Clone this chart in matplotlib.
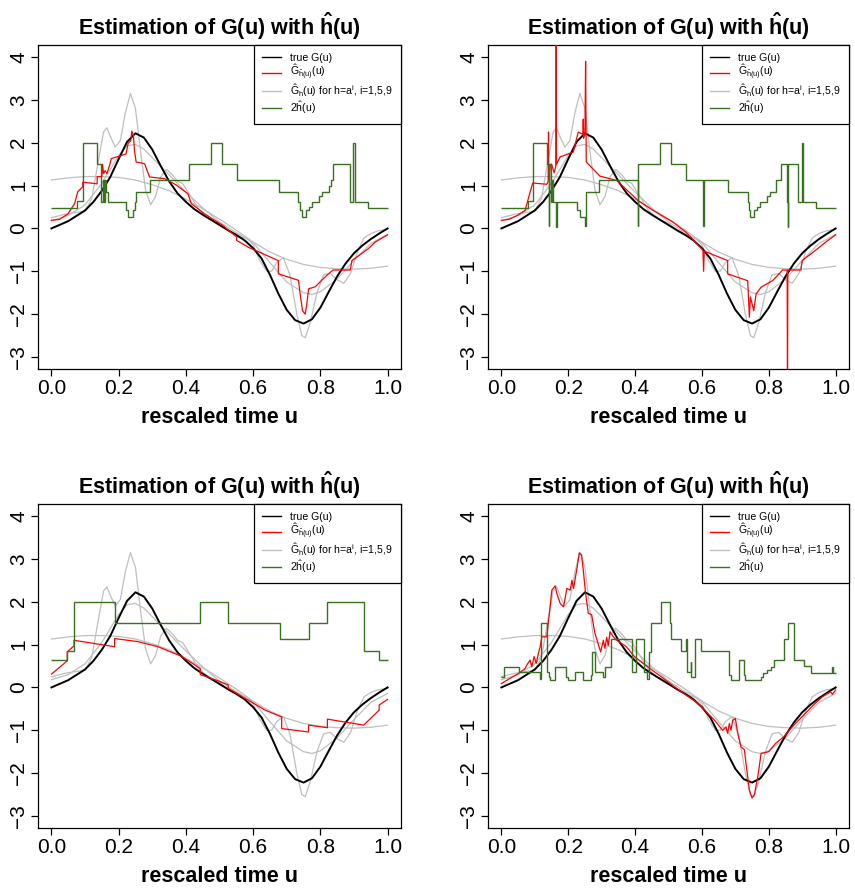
import numpy as np
import matplotlib.pyplot as plt
from matplotlib.lines import Line2D

plt.rcParams['font.family'] = 'Liberation Sans'
plt.rcParams['mathtext.fontset'] = 'custom'
plt.rcParams['mathtext.rm'] = 'Liberation Sans'
plt.rcParams['mathtext.it'] = 'Liberation Sans:italic'
plt.rcParams['mathtext.bf'] = 'Liberation Sans:bold'
plt.rcParams['mathtext.default'] = 'regular'

# curves shared by all four panels
u_true = [0.0, 0.05, 0.1, 0.125, 0.15, 0.175, 0.2, 0.225, 0.25, 0.275, 0.3, 0.325, 0.35,
          0.375, 0.4, 0.425, 0.45, 0.475, 0.5, 0.525, 0.55, 0.575, 0.6, 0.625, 0.65,
          0.675, 0.7, 0.725, 0.75, 0.775, 0.8, 0.825, 0.85, 0.875, 0.9, 0.925, 0.95,
          0.975, 1.0]
g_true = [0.0, 0.17, 0.42, 0.62, 0.88, 1.2, 1.62, 2.02, 2.22, 2.12, 1.84, 1.46, 1.1,
          0.82, 0.62, 0.45, 0.32, 0.2, 0.08, -0.04, -0.15, -0.28, -0.46, -0.7, -1.08,
          -1.52, -1.9, -2.14, -2.22, -2.12, -1.85, -1.48, -1.12, -0.82, -0.58, -0.4,
          -0.25, -0.12, 0.0]

u_wide = [0.0, 0.05, 0.1, 0.15, 0.2, 0.25, 0.3, 0.35, 0.4, 0.45, 0.5, 0.55, 0.6, 0.65,
          0.7, 0.75, 0.8, 0.85, 0.9, 0.95, 1.0]
g_wide = [1.13, 1.18, 1.21, 1.21, 1.19, 1.13, 1.02, 0.88, 0.68, 0.46, 0.22, -0.04, -0.32,
          -0.55, -0.72, -0.84, -0.91, -0.94, -0.95, -0.93, -0.88]

u_mid = [0.0, 0.05, 0.1, 0.15, 0.2, 0.225, 0.25, 0.275, 0.3, 0.35, 0.4, 0.45, 0.5, 0.55,
         0.6, 0.65, 0.7, 0.75, 0.775, 0.8, 0.85, 0.9, 0.95, 1.0]
g_mid = [0.18, 0.3, 0.55, 1.05, 1.7, 1.93, 1.96, 1.85, 1.65, 1.25, 0.85, 0.48, 0.15, -0.1,
         -0.33, -0.8, -1.25, -1.5, -1.54, -1.48, -1.18, -0.75, -0.35, -0.14]

u_narrow = [0.0, 0.04, 0.08, 0.1, 0.12, 0.14, 0.155, 0.165, 0.175, 0.19, 0.205, 0.22,
            0.235, 0.25, 0.265, 0.28, 0.295, 0.31, 0.325, 0.342, 0.36, 0.375, 0.39, 0.41,
            0.44, 0.47, 0.5, 0.53, 0.56, 0.58, 0.6, 0.62, 0.64, 0.655, 0.67, 0.69, 0.71,
            0.73, 0.745, 0.755, 0.77, 0.79, 0.81, 0.83, 0.85, 0.87, 0.89, 0.91, 0.93,
            0.95, 0.97, 1.0]
g_narrow = [0.25, 0.33, 0.38, 0.4, 0.7, 1.6, 2.25, 2.35, 2.15, 1.9, 2.05, 2.7, 3.15, 2.8,
            1.8, 0.9, 0.55, 0.75, 1.2, 1.38, 1.25, 1.1, 1.05, 0.8, 0.42, 0.22, 0.12, -0.08,
            -0.2, -0.22, -0.38, -0.75, -1.0, -1.0, -0.8, -0.68, -1.1, -2.0, -2.5, -2.55,
            -2.2, -1.5, -1.08, -1.05, -1.2, -1.28, -1.05, -0.55, -0.22, -0.12, -0.06, -0.02]

# panel 1 (top left)
red_u_1 = [0.0, 0.024, 0.049, 0.069, 0.078, 0.093, 0.093, 0.136, 0.136, 0.15, 0.152, 0.155,
           0.16, 0.165, 0.173, 0.178, 0.208, 0.222, 0.228, 0.236, 0.239, 0.244, 0.247,
           0.252, 0.277, 0.292, 0.337, 0.37, 0.406, 0.416, 0.456, 0.51, 0.551, 0.551,
           0.586, 0.675, 0.675, 0.735, 0.74, 0.747, 0.755, 0.76, 0.765, 0.785, 0.804,
           0.824, 0.838, 0.889, 0.894, 0.943, 0.963, 1.0]
red_g_1 = [0.19, 0.21, 0.34, 0.58, 0.85, 0.97, 1.08, 1.04, 1.21, 1.21, 1.5, 1.28, 1.35, 1.28,
           1.47, 1.63, 1.7, 1.74, 1.98, 2.05, 2.27, 2.17, 1.82, 1.55, 1.51, 1.2, 1.16, 1.02,
           0.81, 0.58, 0.34, 0.07, -0.2, -0.28, -0.44, -0.75, -1.06, -1.21, -1.53, -1.92,
           -2.0, -1.75, -1.41, -1.36, -1.21, -1.06, -0.97, -0.97, -0.75, -0.47, -0.32, -0.15]
h_edges_1 = [0.0, 0.077, 0.094, 0.137, 0.147, 0.152, 0.157, 0.16, 0.163, 0.167, 0.222,
             0.228, 0.243, 0.248, 0.252, 0.293, 0.41, 0.475, 0.508, 0.553, 0.677, 0.735,
             0.74, 0.744, 0.757, 0.765, 0.775, 0.795, 0.805, 0.825, 0.832, 0.839, 0.889,
             0.896, 0.902, 0.943, 1.0]
h_vals_1 = [0.47, 0.63, 2.0, 1.5, 0.62, 1.12, 0.62, 1.12, 0.85, 0.62, 0.42, 0.26, 0.42, 0.62,
            0.85, 1.12, 1.5, 2.0, 1.5, 1.12, 0.85, 0.62, 0.42, 0.26, 0.42, 0.5, 0.62, 0.75,
            0.85, 1.0, 1.12, 1.5, 0.62, 2.0, 0.62, 0.47]

# panel 2 (top right)
red_u_2 = [0.0, 0.022, 0.047, 0.071, 0.086, 0.094, 0.136, 0.14, 0.141, 0.142, 0.146, 0.15,
           0.158, 0.163, 0.164, 0.165, 0.176, 0.215, 0.23, 0.24, 0.244, 0.245, 0.246, 0.25,
           0.252, 0.254, 0.26, 0.295, 0.345, 0.409, 0.454, 0.513, 0.553, 0.603, 0.605,
           0.607, 0.677, 0.677, 0.737, 0.742, 0.745, 0.75, 0.755, 0.762, 0.777, 0.811,
           0.831, 0.841, 0.855, 0.856, 0.857, 0.896, 0.9, 0.94, 0.97, 1.0]
red_g_2 = [0.19, 0.21, 0.3, 0.42, 0.85, 1.06, 1.03, 1.1, 2.25, 1.15, 1.47, 1.5, 1.3, 1.45,
           4.6, 1.5, 1.67, 1.78, 2.25, 2.21, 2.2, 2.55, 2.1, 2.2, 3.9, 1.55, 1.5, 1.22, 1.12,
           0.65, 0.42, 0.15, -0.09, -0.51, -1.0, -0.53, -0.75, -1.06, -1.22, -2.07, -1.6,
           -1.76, -1.92, -1.53, -1.37, -1.22, -1.06, -0.97, -0.97, -4.0, -0.97, -0.97,
           -0.75, -0.51, -0.32, -0.15]
h_edges_2 = [0.0, 0.079, 0.094, 0.136, 0.141, 0.143, 0.147, 0.15, 0.155, 0.163, 0.165,
             0.225, 0.235, 0.251, 0.253, 0.292, 0.408, 0.41, 0.474, 0.506, 0.553, 0.604,
             0.606, 0.677, 0.737, 0.741, 0.744, 0.757, 0.765, 0.775, 0.795, 0.805, 0.822,
             0.838, 0.855, 0.857, 0.859, 0.886, 0.898, 0.902, 0.94, 1.0]
h_vals_2 = [0.47, 0.63, 2.0, 1.5, 0.05, 1.5, 0.62, 1.12, 0.62, 0.03, 0.62, 0.42, 0.26, 0.05,
            0.85, 1.12, 0.05, 1.5, 2.0, 1.5, 1.12, 0.05, 1.12, 0.85, 0.62, 0.42, 0.26, 0.42,
            0.5, 0.62, 0.75, 0.85, 1.12, 1.5, 0.62, 0.03, 1.5, 0.62, 2.0, 0.62, 0.47]

# panel 3 (bottom left)
red_u_3 = [0.0, 0.047, 0.047, 0.067, 0.067, 0.188, 0.188, 0.257, 0.317, 0.386, 0.443,
           0.443, 0.487, 0.526, 0.526, 0.586, 0.636, 0.685, 0.685, 0.765, 0.765, 0.821,
           0.821, 0.929, 0.975, 0.975, 1.0]
red_g_3 = [0.31, 0.62, 0.83, 0.97, 1.1, 0.95, 1.14, 1.07, 0.95, 0.73, 0.44, 0.3, 0.18, 0.06,
           -0.02, -0.3, -0.53, -0.69, -0.96, -1.04, -0.88, -0.94, -0.74, -0.88, -0.53,
           -0.41, -0.28]
h_edges_3 = [0.0, 0.047, 0.067, 0.188, 0.443, 0.526, 0.68, 0.765, 0.821, 0.929, 0.975, 1.0]
h_vals_3 = [0.64, 0.86, 2.0, 1.5, 2.0, 1.5, 1.13, 1.5, 2.0, 0.86, 0.64]

# panel 4 (bottom right)
red_u_4 = [0.0, 0.017, 0.052, 0.071, 0.076, 0.086, 0.091, 0.098, 0.104, 0.111, 0.116,
           0.121, 0.136, 0.151, 0.161, 0.166, 0.176, 0.186, 0.196, 0.206, 0.211, 0.216,
           0.227, 0.233, 0.24, 0.245, 0.252, 0.26, 0.27, 0.28, 0.297, 0.305, 0.31, 0.315,
           0.32, 0.325, 0.335, 0.345, 0.374, 0.398, 0.438, 0.478, 0.512, 0.538, 0.588,
           0.637, 0.662, 0.672, 0.677, 0.682, 0.687, 0.692, 0.7, 0.707, 0.717, 0.727,
           0.732, 0.742, 0.75, 0.757, 0.767, 0.777, 0.8, 0.82, 0.845, 0.87, 0.91, 0.935,
           0.96, 0.985, 0.99, 1.0]
red_g_4 = [0.09, 0.17, 0.33, 0.44, 0.52, 0.64, 0.48, 0.72, 0.56, 0.8, 0.95, 1.18, 1.18,
           2.27, 2.37, 2.19, 1.96, 1.88, 2.31, 2.27, 2.5, 2.31, 2.82, 3.14, 3.09, 2.74,
           2.19, 1.73, 1.7, 1.26, 0.83, 1.1, 0.91, 1.17, 0.98, 1.3, 1.18, 1.1, 0.95, 0.72,
           0.48, 0.25, 0.05, -0.1, -0.37, -0.76, -1.0, -0.92, -1.07, -0.84, -1.0, -0.77,
           -0.72, -1.07, -1.39, -1.45, -1.78, -2.4, -2.58, -2.5, -2.09, -1.54, -1.5, -1.31,
           -1.15, -0.92, -0.6, -0.4, -0.22, -0.1, -0.16, -0.06]
h_edges_4 = [0.0, 0.007, 0.052, 0.116, 0.119, 0.136, 0.141, 0.146, 0.161, 0.194, 0.198,
             0.22, 0.245, 0.268, 0.272, 0.281, 0.305, 0.31, 0.327, 0.39, 0.403, 0.428,
             0.436, 0.441, 0.447, 0.479, 0.503, 0.508, 0.538, 0.553, 0.556, 0.566, 0.568,
             0.578, 0.596, 0.682, 0.686, 0.712, 0.725, 0.73, 0.776, 0.782, 0.795, 0.806,
             0.815, 0.846, 0.858, 0.876, 0.905, 0.925, 0.99, 0.993, 1.0]
h_vals_4 = [0.25, 0.48, 0.37, 0.19, 1.5, 0.37, 0.25, 0.17, 0.48, 0.25, 0.17, 0.37, 0.17,
            0.29, 0.83, 0.37, 0.25, 0.48, 1.14, 0.37, 1.14, 0.37, 0.2, 0.83, 1.5, 2.0, 1.5,
            1.14, 0.86, 1.14, 0.37, 0.6, 0.25, 1.14, 0.86, 0.29, 0.17, 0.64, 0.29, 0.17,
            0.25, 0.33, 0.4, 0.48, 0.64, 1.12, 1.5, 0.64, 0.5, 0.34, 0.48, 0.34]

legend_labels = ['true G(u)', r'$\hat{G}_{\hat{h}(u)}(u)$',
                 r'$\hat{G}_h(u)$ for h=a$^i$, i=1,5,9', r'2$\hat{h}$(u)']

W, H = 855, 893
fig = plt.figure(figsize=(W / 100, H / 100), dpi=100)

# pixel boxes of the four plot regions: left, top, width, height
boxes = [(38, 45, 363, 324), (488, 45, 361, 324), (38, 504, 363, 324), (488, 504, 361, 324)]
reds = [(red_u_1, red_g_1), (red_u_2, red_g_2), (red_u_3, red_g_3), (red_u_4, red_g_4)]
steps = [(h_edges_1, h_vals_1), (h_edges_2, h_vals_2), (h_edges_3, h_vals_3), (h_edges_4, h_vals_4)]

green = '#3a7022'
for (left, top, w, h), (ru, rg), (he, hv) in zip(boxes, reds, steps):
    ax = fig.add_axes([left / W, 1 - (top + h) / H, w / W, h / H])
    for uu, gg in [(u_wide, g_wide), (u_mid, g_mid), (u_narrow, g_narrow)]:
        ax.plot(uu, gg, color='#bebebe', lw=0.9, zorder=1)
    ax.plot(u_true, g_true, color='black', lw=1.4, zorder=2)
    ax.plot(ru, rg, color='red', lw=0.9, zorder=3)
    ax.stairs(hv, he, baseline=None, color=green, lw=1.0, zorder=4)

    ax.set_xlim(-0.04, 1.04)
    ax.set_ylim(-3.28, 4.28)
    ax.set_xticks(np.arange(0, 1.01, 0.2))
    ax.set_xticklabels(['0.0', '0.2', '0.4', '0.6', '0.8', '1.0'])
    ax.set_yticks(range(-3, 5))
    ax.tick_params(direction='out', length=5, width=0.9, labelsize=15, pad=2)
    ax.tick_params(axis='y', labelrotation=90)
    for lbl in ax.get_yticklabels():
        lbl.set_va('center')
    for sp in ax.spines.values():
        sp.set_linewidth(0.9)
    ax.set_xlabel('rescaled time u', fontsize=15.5, fontweight='bold', labelpad=7)
    ax.set_title(r'Estimation of G(u) with $\mathbf{\hat{h}}$(u)', fontsize=15.5,
                 fontweight='bold', pad=7)

    handles = [Line2D([], [], color='black', lw=1),
               Line2D([], [], color='red', lw=1),
               Line2D([], [], color='#bebebe', lw=1),
               Line2D([], [], color=green, lw=1)]
    leg = ax.legend(handles, legend_labels, loc='upper right', borderaxespad=0,
                    fancybox=False, framealpha=1, edgecolor='black', fontsize=7.6,
                    handlelength=1.8, handletextpad=0.9, borderpad=0.75, labelspacing=0.0)
    leg.get_frame().set_linewidth(0.9)

fig.savefig('out.png', dpi=100)
